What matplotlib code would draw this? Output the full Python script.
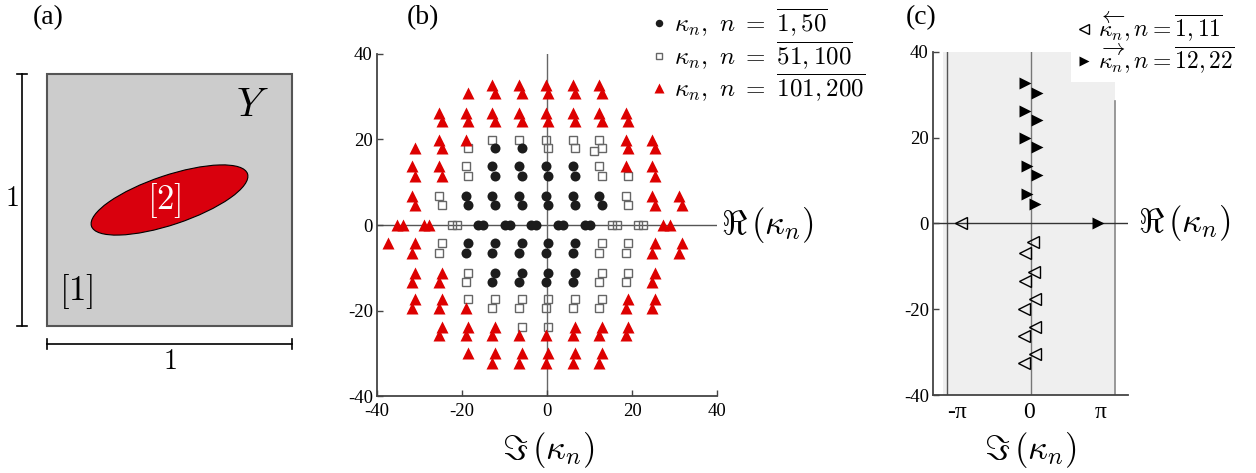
import numpy as np
import matplotlib
matplotlib.use('Agg')
import matplotlib.pyplot as plt
from matplotlib.patches import Rectangle, Ellipse

plt.rcParams['font.family'] = 'serif'
plt.rcParams['font.serif'] = ['Liberation Serif', 'DejaVu Serif']
plt.rcParams['mathtext.fontset'] = 'cm'
plt.rcParams['axes.unicode_minus'] = False

W, H = 1256, 473

# panel (b): eigenvalues, n = 1..50 (circles)
circ_pts = [
    (-19.1, 6.9), (-18.5, 4.7), (-12.9, 6.9), (-12.3, 4.7), (-6.6, 6.9), (-6.0, 4.7),
    (-0.3, 6.9), (0.3, 4.7), (6.0, 6.9), (6.6, 4.7), (12.3, 6.9), (12.9, 4.7),
    (-12.9, 13.7), (-12.3, 11.5), (-6.6, 13.7), (-6.0, 11.5), (-0.3, 13.7), (0.3, 11.5),
    (6.0, 13.7), (6.6, 11.5),
    (-12.3, 18.0), (-6.0, 18.0),
    (-16.2, 0), (-15.1, 0), (-10.0, 0), (-8.8, 0), (-3.7, 0), (-2.5, 0),
    (2.7, 0), (3.8, 0), (8.9, 0), (10.1, 0),
    (-18.5, -4.3), (-19.1, -6.6), (-12.3, -4.3), (-12.9, -6.6), (-6.0, -4.3), (-6.6, -6.6),
    (0.3, -4.3), (-0.3, -6.6), (6.6, -4.3), (6.0, -6.6),
    (-12.3, -11.2), (-12.9, -13.3), (-6.0, -11.2), (-6.6, -13.3), (0.3, -11.2), (-0.3, -13.3),
    (6.6, -11.2), (6.0, -13.3),
]

# n = 51..100 (open squares)
sq_pts = [
    (-25.4, 6.9), (-24.8, 4.7), (18.5, 6.9), (19.1, 4.7),
    (-19.1, 13.7), (-18.5, 11.5), (12.3, 13.7), (12.9, 11.5), (19.1, 11.5),
    (-18.5, 18.0), (-12.9, 19.9), (-6.6, 19.9), (-0.3, 19.9), (0.3, 18.0),
    (6.0, 19.9), (6.6, 18.0), (12.3, 19.9), (12.9, 18.0), (11.1, 17.4),
    (-22.4, 0), (-21.2, 0), (15.2, 0), (16.4, 0), (21.5, 0), (22.7, 0),
    (-24.8, -4.3), (-25.4, -6.6), (12.9, -4.3), (12.3, -6.6), (19.1, -4.3), (18.5, -6.6),
    (-18.5, -11.2), (-19.1, -13.3), (12.9, -11.2), (12.3, -13.3), (19.1, -11.2), (18.5, -13.3),
    (-18.5, -17.4), (-12.3, -17.4), (-12.9, -19.5), (-6.0, -17.4), (-6.6, -19.5),
    (0.3, -17.4), (-0.3, -19.5), (6.6, -17.4), (6.0, -19.5), (12.9, -17.4), (12.3, -19.5),
    (-6.0, -23.8), (0.3, -23.8),
]

# n = 101..200 (red triangles)
tri_pts = [
    (-31.7, 6.9), (-31.1, 4.7), (24.8, 6.9), (25.4, 4.7), (31.1, 6.9), (31.7, 4.7),
    (-31.7, 13.7), (-31.1, 11.5), (-25.4, 13.7), (-24.8, 11.5), (18.5, 13.7),
    (24.8, 13.7), (25.4, 11.5),
    (-31.1, 18.0), (-25.4, 19.9), (-24.8, 18.0), (-19.1, 19.9), (18.5, 19.9), (19.1, 18.0),
    (24.8, 19.9), (25.4, 18.0),
    (-25.4, 26.3), (-24.8, 24.4), (-19.1, 26.3), (-18.5, 24.4), (-12.9, 26.3), (-12.3, 24.4),
    (-6.6, 26.3), (-6.0, 24.4), (-0.3, 26.3), (0.3, 24.4), (6.0, 26.3), (6.6, 24.4),
    (12.3, 26.3), (12.9, 24.4), (18.5, 26.3), (19.1, 24.4),
    (-18.5, 30.8), (-12.9, 32.8), (-12.3, 30.8), (-6.6, 32.8), (-6.0, 30.8),
    (-0.3, 32.8), (0.3, 30.8), (6.0, 32.8), (6.6, 30.8), (12.3, 32.8), (12.9, 30.8),
    (-35.3, 0), (-34.0, 0), (-29.0, 0), (-27.7, 0), (27.4, 0), (28.9, 0),
    (-37.4, -4.3), (-31.1, -4.3), (-31.7, -6.6), (25.4, -4.3), (24.8, -6.6),
    (31.7, -4.3), (31.1, -6.6),
    (-31.1, -11.2), (-31.7, -13.3), (-24.8, -11.2), (-25.4, -13.3), (25.4, -11.2), (24.8, -13.3),
    (-31.1, -17.4), (-31.7, -19.5), (-24.8, -17.4), (-25.4, -19.5), (-19.1, -19.5),
    (19.1, -17.4), (18.5, -19.5), (25.4, -17.4), (24.8, -19.5),
    (-24.8, -23.8), (-25.4, -25.8), (-18.5, -23.8), (-19.1, -25.8), (-12.3, -23.8), (-12.9, -25.8),
    (-6.6, -25.8), (-0.3, -25.8), (6.6, -23.8), (6.0, -25.8), (12.9, -23.8), (12.3, -25.8),
    (19.1, -23.8), (18.5, -25.8),
    (-18.5, -30.0), (-12.3, -30.0), (-12.9, -32.2), (-6.0, -30.0), (-6.6, -32.2),
    (0.3, -30.0), (-0.3, -32.2), (6.6, -30.0), (6.0, -32.2), (12.9, -30.0), (12.3, -32.2),
]

# panel (c): n = 1..11 (open, left) and n = 12..22 (filled, right)
bwd_x = [-2.98, 0.19, -0.17, 0.22, -0.17, 0.26, -0.22, 0.26, -0.22, 0.26, -0.22]
bwd_y = [0, -4.4, -6.8, -11.3, -13.4, -17.7, -20.0, -24.1, -26.3, -30.5, -32.6]
fwd_x = [3.03, 0.27, -0.1, 0.34, -0.1, 0.34, -0.17, 0.34, -0.17, 0.34, -0.17]
fwd_y = [0, 4.5, 6.8, 11.3, 13.4, 17.7, 19.8, 24.1, 26.2, 30.4, 32.6]

b_ticks = [-40, -20, 0, 20, 40]
c_xticks = [-np.pi, 0, np.pi]
c_xlabels = ['-π', '0', 'π']

RED = '#dd0000'
RE_LABEL = r'$\Re\,(\kappa_n)$'
IM_LABEL = r'$\Im\,(\kappa_n)$'


def style_axes(ax):
    for s in ['top', 'right']:
        ax.spines[s].set_visible(False)
    for s in ['left', 'bottom']:
        ax.spines[s].set_color('#444444')
        ax.spines[s].set_linewidth(1.3)
    ax.tick_params(direction='in', length=4, width=1, color='#444444',
                   labelsize=13.5, pad=3)


def panel_a(fig):
    ax = fig.add_axes([0, 0, 320 / W, 1])
    ax.set_xlim(-47 / 245, 273 / 245)
    ax.set_ylim(-147 / 252, 326 / 252)
    ax.axis('off')
    ax.add_patch(Rectangle((0, 0), 1, 1, fc='#cccccc', ec='#555555', lw=1.5))
    ax.add_patch(Ellipse((0.5, 0.5), 0.67, 0.196, angle=18, fc='#d9000d',
                         ec='black', lw=0.8))
    ax.text(0.84, 0.87, r'$Y$', fontsize=29, ha='center', va='center')
    ax.text(0.12, 0.135, r'$[1]$', fontsize=25, ha='center', va='center')
    ax.text(0.48, 0.5, r'$[2]$', fontsize=25, ha='center', va='center', color='white')
    # dimension bars
    xv = -0.102
    ax.plot([xv, xv], [0, 1], color='black', lw=1.2)
    ax.plot([xv - 0.02, xv + 0.02], [0, 0], color='black', lw=1.2)
    ax.plot([xv - 0.02, xv + 0.02], [1, 1], color='black', lw=1.2)
    ax.text(-0.145, 0.5, r'$1$', fontsize=20, ha='center', va='center')
    yh = -0.071
    ax.plot([0, 1], [yh, yh], color='black', lw=1.2)
    ax.plot([0, 0], [yh - 0.02, yh + 0.02], color='black', lw=1.2)
    ax.plot([1, 1], [yh - 0.02, yh + 0.02], color='black', lw=1.2)
    ax.text(0.5, -0.145, r'$1$', fontsize=20, ha='center', va='center')


def panel_b(fig):
    ax = fig.add_axes([377 / W, (H - 396) / H, 340 / W, 342 / H])
    ax.set_xlim(-40, 40)
    ax.set_ylim(-40, 40)
    style_axes(ax)
    ax.set_xticks(b_ticks)
    ax.set_yticks(b_ticks)
    ax.tick_params(axis='x', pad=5)
    ax.axhline(0, color='#555555', lw=1, zorder=1)
    ax.axvline(0, color='#666666', lw=1, zorder=1)

    cx, cy = np.array(circ_pts).T
    sx, sy = np.array(sq_pts).T
    tx, ty = np.array(tri_pts).T
    h1, = ax.plot(cx, cy, 'o', color='#1c1c1c', ms=7.2, mec='none', zorder=3)
    h2, = ax.plot(sx, sy, 's', mfc='none', mec='#666666', ms=5.5, mew=1, zorder=2)
    h3, = ax.plot(tx, ty, '^', color=RED, ms=9, mec='none', zorder=3)

    ax.legend([h1, h2, h3],
              [r'$\kappa_n,\ n\ =\ \overline{1,50}$',
               r'$\kappa_n,\ n\ =\ \overline{51,100}$',
               r'$\kappa_n,\ n\ =\ \overline{101,200}$'],
              loc='upper left', bbox_to_anchor=(638 / W, 1 + 6 / H),
              bbox_transform=fig.transFigure, frameon=False, fontsize=18,
              handlelength=0.7, handletextpad=0.25, labelspacing=0.0,
              borderpad=0, markerscale=0.75)

    ax.text(1.012, 0, RE_LABEL, transform=ax.get_yaxis_transform(),
            ha='left', va='center', fontsize=25)
    fig.text(548 / W, 1 - 450 / H, IM_LABEL, ha='center', va='center', fontsize=25)


def panel_c(fig):
    ax = fig.add_axes([933 / W, (H - 395) / H, 195 / W, 343.3 / H])
    ax.set_xlim(-4.19, 4.32)
    ax.set_ylim(-40, 40)
    style_axes(ax)
    ax.set_yticks(b_ticks)
    ax.set_xticks(c_xticks)
    ax.set_xticklabels(c_xlabels, fontsize=17)
    ax.tick_params(axis='x', length=0, pad=5)

    ax.axvspan(-3.75, 3.75, color='#efefef', lw=0, zorder=0)
    ax.axvline(-3.6, color='#555555', lw=1, zorder=1)
    ax.axvline(0.09, color='#777777', lw=1, zorder=1)
    ax.plot([3.75, 3.75], [-40, 28.5], color='#888888', lw=1.2, zorder=1)
    ax.axhline(0, color='#333333', lw=1, zorder=1)

    h1, = ax.plot(bwd_x, bwd_y, '<', mfc='none', mec='black', ms=9, mew=1, zorder=3)
    h2, = ax.plot(fwd_x, fwd_y, '>', color='black', ms=9, mec='none', zorder=3)

    leg = ax.legend([h1, h2],
                    [r'$\overleftarrow{\kappa_n}, n=\overline{1,11}$',
                     r'$\overrightarrow{\kappa_n}, n=\overline{12,22}$'],
                    loc='upper right', bbox_to_anchor=(1252 / W, 1 + 8 / H),
                    bbox_transform=fig.transFigure, frameon=True, fontsize=17,
                    handlelength=0.6, handletextpad=0.3, labelspacing=-0.1,
                    borderpad=0.25, markerscale=0.8, fancybox=False)
    leg.get_frame().set_facecolor('white')
    leg.get_frame().set_edgecolor('none')
    leg.get_frame().set_alpha(1)

    ax.text(1.05, 0, RE_LABEL, transform=ax.get_yaxis_transform(),
            ha='left', va='center', fontsize=25)
    fig.text(1030 / W, 1 - 450 / H, IM_LABEL, ha='center', va='center', fontsize=25)


def main():
    fig = plt.figure(figsize=(W / 100, H / 100), dpi=100)
    panel_a(fig)
    panel_b(fig)
    panel_c(fig)
    fig.text(48 / W, 1 - 18 / H, '(a)', fontsize=20, ha='center', va='center')
    fig.text(423 / W, 1 - 18 / H, '(b)', fontsize=20, ha='center', va='center')
    fig.text(921 / W, 1 - 18 / H, '(c)', fontsize=20, ha='center', va='center')
    fig.savefig('out.png', dpi=100)


if __name__ == "__main__":
    main()
